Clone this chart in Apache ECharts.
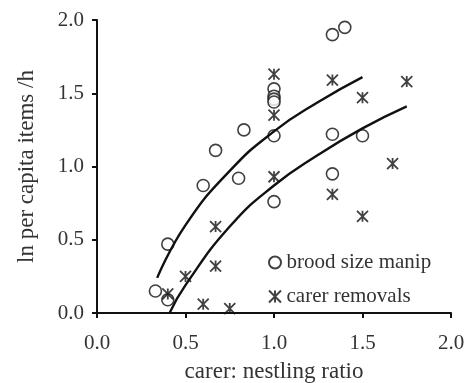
<!DOCTYPE html>
<html>
<head>
<meta charset="utf-8">
<script src="https://cdn.jsdelivr.net/npm/echarts@6/dist/echarts.min.js"></script>
<style>
  html, body { margin: 0; padding: 0; background: #fff; }
  #chart { width: 468px; height: 383px; }
</style>
</head>
<body>
<div id="chart"></div>
<script>
// brood size manipulation points [ratio, ln items/h]
const broodX = [0.33, 0.40, 0.40, 0.60, 0.67, 0.80, 0.83, 1.0, 1.0, 1.0, 1.0, 1.0, 1.0, 1.33, 1.40, 1.33, 1.50, 1.33]
const broodY = [0.15, 0.09, 0.47, 0.87, 1.11, 0.92, 1.25, 1.53, 1.48, 1.46, 1.44, 1.21, 0.76, 1.90, 1.95, 1.22, 1.21, 0.95]
// carer removal points
const removalX = [0.40, 0.50, 0.60, 0.67, 0.67, 0.75, 1.0, 1.0, 1.0, 1.33, 1.50, 1.75, 1.67, 1.33, 1.50]
const removalY = [0.13, 0.25, 0.06, 0.59, 0.32, 0.03, 1.63, 1.35, 0.93, 1.59, 1.47, 1.58, 1.02, 0.81, 0.66]
// fitted curves
const upperX = [0.34, 0.5, 0.75, 1.0, 1.25, 1.5]
const upperY = [0.24, 0.60, 0.97, 1.24, 1.44, 1.61]
const lowerX = [0.41, 0.5, 0.75, 1.0, 1.25, 1.5, 1.75]
const lowerY = [0.0, 0.19, 0.59, 0.87, 1.08, 1.26, 1.41]

const FONT = '"Liberation Serif", "DejaVu Serif", serif'
const STAR = 'path://M0,0L10,10M10,0L0,10M5,0L5,10'

function pairs (xs, ys) {
  return xs.map((x, i) => [x, ys[i]])
}

const chart = echarts.init(document.getElementById('chart'))
const axisCommon = {
  type: 'value',
  min: 0,
  max: 2,
  interval: 0.5,
  nameLocation: 'middle',
  nameTextStyle: { fontFamily: FONT, fontSize: 23, color: '#333' },
  axisLine: { show: true, lineStyle: { color: '#111', width: 2 } },
  axisTick: { show: true, length: 5, lineStyle: { color: '#111', width: 2 } },
  splitLine: { show: false },
  axisLabel: {
    fontFamily: FONT,
    fontSize: 21,
    color: '#333',
    formatter: v => v.toFixed(1)
  }
}

chart.setOption({
  animation: false,
  grid: { left: 97, right: 17, top: 20, bottom: 70, outerBoundsMode: 'none', containLabel: false },
  legend: {
    left: 263,
    top: 247,
    orient: 'vertical',
    itemGap: 13,
    itemWidth: 13,
    itemHeight: 12,
    textStyle: { fontFamily: FONT, fontSize: 21, color: '#333' },
    data: [
      { name: 'brood size manip', icon: 'circle' },
      { name: 'carer removals', icon: STAR }
    ]
  },
  xAxis: Object.assign({}, axisCommon, {
    name: 'carer: nestling ratio',
    nameGap: 47,
    axisLabel: Object.assign({}, axisCommon.axisLabel, { margin: 20 })
  }),
  yAxis: Object.assign({}, axisCommon, {
    name: 'ln per capita items /h',
    nameGap: 59,
    axisLabel: Object.assign({}, axisCommon.axisLabel, { margin: 13 })
  }),
  series: [
    {
      name: 'brood size manip',
      type: 'scatter',
      symbol: 'circle',
      symbolSize: 12,
      itemStyle: { color: '#fff', borderColor: '#111', borderWidth: 1.6 },
      data: pairs(broodX, broodY)
    },
    {
      name: 'carer removals',
      type: 'scatter',
      symbol: STAR,
      symbolSize: 11,
      itemStyle: { color: 'rgba(0,0,0,0)', borderColor: '#111', borderWidth: 1.8 },
      data: pairs(removalX, removalY)
    },
    {
      type: 'line',
      smooth: true,
      symbol: 'none',
      lineStyle: { color: '#111', width: 2.4 },
      data: pairs(upperX, upperY)
    },
    {
      type: 'line',
      smooth: true,
      symbol: 'none',
      lineStyle: { color: '#111', width: 2.4 },
      data: pairs(lowerX, lowerY)
    }
  ]
})
</script>
</body>
</html>
